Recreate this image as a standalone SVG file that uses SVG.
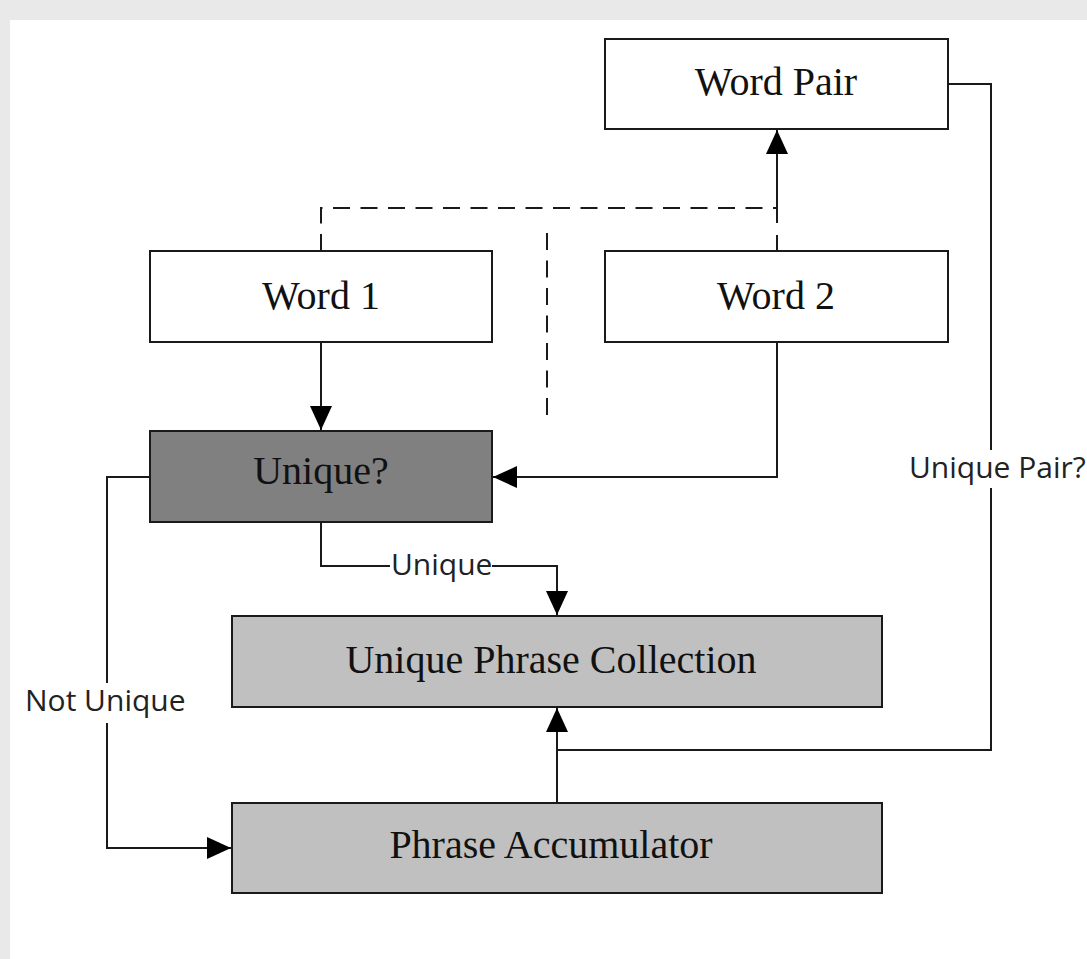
<svg xmlns="http://www.w3.org/2000/svg" width="1087" height="959" viewBox="0 0 1087 959">
<style>
.box{stroke:#1a1a1a;stroke-width:2}
.white{fill:#ffffff}
.dark{fill:#808080}
.light{fill:#c0c0c0}
.t{font-family:"Liberation Serif","Times New Roman",serif;font-size:40px;fill:#111;text-anchor:middle}
.lbl{font-family:"Open Sans","Noto Sans",sans-serif;font-size:30px;fill:#222}
.ln{fill:none;stroke:#1a1a1a;stroke-width:2}
.dash{fill:none;stroke:#1a1a1a;stroke-width:2;stroke-dasharray:17 10.5}
.bg{fill:#ffffff}
</style>
<defs>
<marker id="arr" viewBox="0 0 24 22" refX="24" refY="11" markerWidth="24" markerHeight="22" markerUnits="userSpaceOnUse" orient="auto">
<path d="M0,0 L24,11 L0,22 Z" fill="#000"/>
</marker>
</defs>
<rect x="0" y="0" width="1087" height="959" fill="#e9e9e9"/>
<rect x="10" y="20" width="1077" height="939" fill="#ffffff"/>

<g id="connectors">
<path class="dash" d="M321,251 L321,208 L777,208"/>
<path class="dash" d="M547,233 L547,425"/>
<path class="ln" d="M777,251 L777,235"/>
<path class="ln" d="M777,223 L777,130" marker-end="url(#arr)"/>
<path class="ln" d="M321,342 L321,430" marker-end="url(#arr)"/>
<path class="ln" d="M777,342 L777,477 L493,477" marker-end="url(#arr)"/>
<path class="ln" d="M321,522 L321,566 L557,566 L557,615" marker-end="url(#arr)"/>
<path class="ln" d="M150,477 L107,477 L107,848 L231,848" marker-end="url(#arr)"/>
<path class="ln" d="M948,84 L991,84 L991,750 L557,750"/>
<path class="ln" d="M557,803 L557,708" marker-end="url(#arr)"/>
<g id="label-unique">
<rect class="bg" x="390" y="549" width="102" height="32"/>
<text class="lbl" x="391" y="575">Unique</text>
</g>
<g id="label-not-unique">
<rect class="bg" x="23" y="683" width="167" height="40"/>
<text class="lbl" x="25" y="711">Not Unique</text>
</g>
<g id="label-unique-pair">
<rect class="bg" x="907" y="450" width="180" height="38"/>
<text class="lbl" x="909" y="478">Unique Pair?</text>
</g>
</g>

<g id="word-pair">
<rect class="box white" x="605" y="39" width="343" height="90"/>
<text class="t" x="776" y="95">Word Pair</text>
</g>
<g id="word-1">
<rect class="box white" x="150" y="251" width="342" height="91"/>
<text class="t" x="321" y="309">Word 1</text>
</g>
<g id="word-2">
<rect class="box white" x="605" y="251" width="343" height="91"/>
<text class="t" x="776" y="309">Word 2</text>
</g>
<g id="unique-q">
<rect class="box dark" x="150" y="431" width="342" height="91"/>
<text class="t" x="321" y="484">Unique?</text>
</g>
<g id="unique-phrase-collection">
<rect class="box light" x="232" y="616" width="650" height="91"/>
<text class="t" x="551" y="673">Unique Phrase Collection</text>
</g>
<g id="phrase-accumulator">
<rect class="box light" x="232" y="803" width="650" height="90"/>
<text class="t" x="551" y="858">Phrase Accumulator</text>
</g>
</svg>
